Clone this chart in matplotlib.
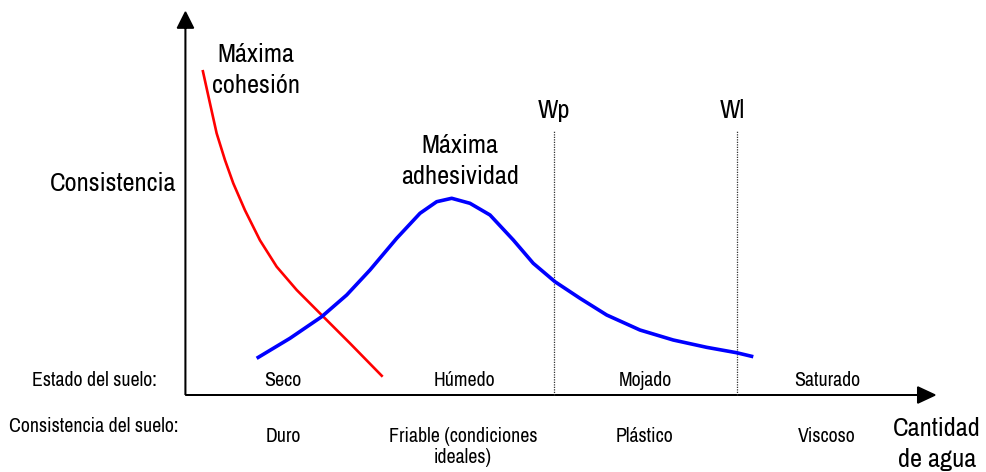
import matplotlib
matplotlib.use("Agg")
import matplotlib.pyplot as plt
import matplotlib.transforms as mtransforms
from matplotlib import font_manager

# --- curves: water content (0-100) vs consistency (0-100) ---
cohesion_x = [2.29, 3.27, 4.16, 5.27, 6.38, 7.94, 9.94, 12.17, 14.84, 18.17, 21.95, 26.31]
cohesion_y = [84.86, 76.16, 68.33, 61.36, 55.27, 48.24, 40.40, 33.50, 27.42, 20.89, 13.50, 4.78]

adhesion_x = [9.50, 13.94, 18.17, 21.51, 24.62, 28.18, 31.29, 33.52, 35.52, 37.96, 40.63,
              43.74, 46.40, 49.30, 52.64, 56.20, 60.64, 65.08, 69.54, 73.54, 75.76]
adhesion_y = [9.58, 14.80, 20.44, 26.11, 32.64, 40.91, 47.44, 50.47, 51.36, 50.05, 47.00,
              40.47, 34.39, 29.58, 25.25, 20.89, 16.97, 14.36, 12.45, 11.04, 10.00]

# Atterberg limits
limit_names = ["Wp", "Wl"]
limit_x = [49.2, 73.6]
limit_label_x = [49.2, 73.0]
limit_top = 69.2

# soil state / consistency per moisture range
state_labels = ["Seco", "Húmedo", "Mojado", "Saturado"]
state_x = [13.0, 37.2, 61.4, 85.6]
soil_labels = ["Duro", "Friable (condiciones\nideales)", "Plástico", "Viscoso"]
soil_x = [13.0, 37.0, 61.3, 85.6]

names = {f.name for f in font_manager.fontManager.ttflist}
family = "Liberation Sans"
for cand in ["Liberation Sans Narrow", "Arial Narrow", "Archivo Narrow", "Roboto Condensed"]:
    if cand in names:
        family = cand
        break
plt.rcParams["font.family"] = [family, "DejaVu Sans"]

BIG = 19
SMALL = 14.3

fig = plt.figure(figsize=(9.87, 4.72), dpi=100)
ax = fig.add_axes([0.1879, 0.1631, 0.7594, 0.8115])
ax.set_xlim(0, 100)
ax.set_ylim(0, 100)
ax.axis("off")


def label(x, y, text, size, step):
    # one text per line so every baseline sits where we want it
    for i, line in enumerate(text.split("\n")):
        tr = mtransforms.offset_copy(ax.transData, fig=fig, y=-i * step, units="points")
        ax.text(x, y, line, transform=tr, fontsize=size, ha="center",
                va="baseline", clip_on=False, color="black")


# axes with arrow heads
ax.arrow(0, 0, 100, 0, width=0.0, head_width=4.2, head_length=2.3,
         length_includes_head=True, fc="black", ec="black", lw=1.1, clip_on=False)
ax.arrow(0, 0, 0, 100, width=0.0, head_width=2.15, head_length=4.2,
         length_includes_head=True, fc="black", ec="black", lw=1.1, clip_on=False)

# plastic and liquid limits
for x in limit_x:
    ax.plot([x, x], [0, limit_top], color="#333333", lw=0.9,
            linestyle=(0, (1, 1)), clip_on=False)
for x, name in zip(limit_label_x, limit_names):
    label(x, 72.3, name, BIG, 22)

ax.plot(cohesion_x, cohesion_y, color="#ff0000", lw=1.9,
        solid_capstyle="butt", solid_joinstyle="round", clip_on=False)
ax.plot(adhesion_x, adhesion_y, color="#0000ff", lw=2.6,
        solid_capstyle="butt", solid_joinstyle="round", clip_on=False)

label(9.4, 86.9, "Máxima\ncohesión", BIG, 22.3)
label(36.6, 63.2, "Máxima\nadhesividad", BIG, 22.3)
label(-9.7, 53.3, "Consistencia", BIG, 22)
label(100.3, -10.7, "Cantidad\nde agua", BIG, 22.3)

label(-12.1, 2.35, "Estado del suelo:", SMALL, 15)
label(-12.2, -9.7, "Consistencia del suelo:", SMALL, 15)

for x, txt in zip(state_x, state_labels):
    label(x, 2.35, txt, SMALL, 15)
for x, txt in zip(soil_x, soil_labels):
    label(x, -12.3, txt, SMALL, 15.1)

fig.savefig("out.png", dpi=100)
